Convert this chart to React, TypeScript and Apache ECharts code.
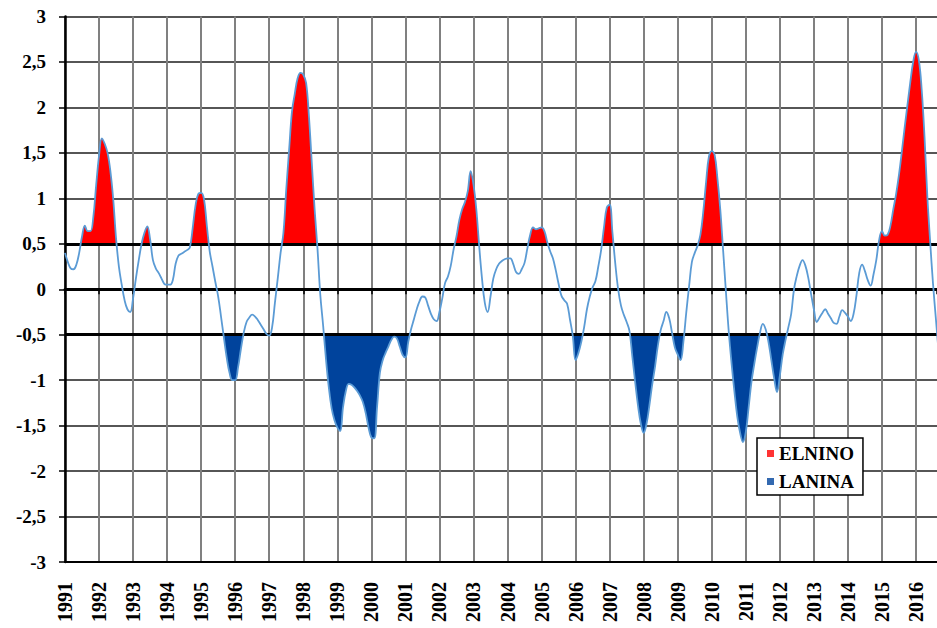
import React, { useEffect, useRef } from "react";
import * as echarts from "echarts";

// ---- data ----
const START_YEAR = 1991;
const X_MAX = 2016.617; // right edge of the plot (about Aug 2016)
const Y_MIN = -3;
const Y_MAX = 3;
const Y_STEP = 0.5;
const EL_NINO_LEVEL = 0.5;
const LA_NINA_LEVEL = -0.5;
const LEGEND_NAMES = ["ELNINO", "LANINA"];
const EL_NINO_COLOR = "#ff0000";
const LA_NINA_COLOR = "#00439c";
const LINE_COLOR = "#5b9bd5";

// monthly index values, Jan 1991 onwards (one row per year)
const monthlyIndex: number[] = [
  // 1991
  0.4, 0.3, 0.23, 0.22, 0.27, 0.4, 0.58, 0.7, 0.64, 0.64, 0.8, 1.15,
  // 1992
  1.47, 1.66, 1.6, 1.5, 1.3, 0.99, 0.56, 0.25, 0.05, -0.12, -0.22, -0.25,
  // 1993
  -0.1, 0.12, 0.32, 0.5, 0.62, 0.69, 0.55, 0.32, 0.23, 0.18, 0.12, 0.06,
  // 1994
  0.05, 0.05, 0.1, 0.28, 0.37, 0.39, 0.41, 0.43, 0.46, 0.67, 0.92, 1.05,
  // 1995
  1.06, 0.99, 0.7, 0.42, 0.25, 0.08, -0.08, -0.3, -0.53, -0.75, -0.92, -1.0,
  // 1996
  -1.0, -0.86, -0.66, -0.48, -0.36, -0.31, -0.28, -0.3, -0.34, -0.39, -0.44, -0.49,
  // 1997
  -0.51, -0.42, -0.15, 0.12, 0.4, 0.62, 1.1, 1.53, 1.95, 2.15, 2.32, 2.38,
  // 1998
  2.36, 2.27, 1.9, 1.39, 0.88, 0.45, -0.06, -0.4, -0.77, -1.08, -1.31, -1.44,
  // 1999
  -1.52, -1.56, -1.3, -1.12, -1.04, -1.05, -1.08, -1.12, -1.17, -1.24, -1.36, -1.52,
  // 2000
  -1.63, -1.64, -1.3, -0.92, -0.78, -0.7, -0.63, -0.56, -0.52, -0.54, -0.63, -0.72,
  // 2001
  -0.75, -0.58, -0.44, -0.33, -0.22, -0.13, -0.08, -0.09, -0.18, -0.27, -0.33, -0.35,
  // 2002
  -0.25, -0.1, 0.07, 0.14, 0.26, 0.44, 0.58, 0.76, 0.88, 0.96, 1.08, 1.3,
  // 2003
  1.15, 0.88, 0.48, 0.12, -0.15, -0.25, -0.08, 0.12, 0.22, 0.28, 0.31, 0.33,
  // 2004
  0.34, 0.34, 0.28, 0.19, 0.17, 0.22, 0.29, 0.45, 0.6, 0.68, 0.66, 0.67,
  // 2005
  0.68, 0.64, 0.52, 0.42, 0.34, 0.21, 0.06, -0.07, -0.12, -0.16, -0.33, -0.51,
  // 2006
  -0.78, -0.7, -0.58, -0.42, -0.22, -0.08, 0.02, 0.09, 0.25, 0.43, 0.68, 0.9,
  // 2007
  0.93, 0.62, 0.28, 0.0, -0.18, -0.28, -0.36, -0.46, -0.74, -1.02, -1.28, -1.48,
  // 2008
  -1.58, -1.48, -1.28, -1.05, -0.85, -0.62, -0.45, -0.35, -0.25, -0.32, -0.48, -0.64,
  // 2009
  -0.72, -0.78, -0.58, -0.26, 0.03, 0.3, 0.4, 0.48, 0.6, 0.85, 1.18, 1.46,
  // 2010
  1.52, 1.48, 1.22, 0.88, 0.43, -0.03, -0.47, -0.82, -1.13, -1.4, -1.58, -1.68,
  // 2011
  -1.57, -1.3, -1.02, -0.82, -0.64, -0.48, -0.38, -0.44, -0.58, -0.78, -0.98, -1.13,
  // 2012
  -0.95, -0.72, -0.56, -0.42, -0.27, 0.0, 0.15, 0.26, 0.32, 0.26, 0.13, -0.05,
  // 2013
  -0.22, -0.36, -0.31, -0.26, -0.22, -0.27, -0.32, -0.37, -0.38, -0.3, -0.23, -0.26,
  // 2014
  -0.3, -0.35, -0.27, -0.07, 0.18, 0.27, 0.2, 0.1, 0.04, 0.16, 0.32, 0.54,
  // 2015
  0.64, 0.59, 0.6, 0.7, 0.88, 1.05, 1.26, 1.51, 1.78, 2.03, 2.28, 2.5,
  // 2016
  2.61, 2.52, 2.2, 1.68, 1.02, 0.52, 0.06, -0.32, -0.7,
];

const serif = "'Liberation Serif', 'Times New Roman', serif";

export default function App() {
  const ref = useRef<HTMLDivElement>(null);

  useEffect(() => {
    if (!ref.current) return;
    const chart = echarts.init(ref.current, null, { renderer: "svg" });
    const points = monthlyIndex.map((v, i) => [START_YEAR + i / 12, v]);

    const commonX = {
      type: "value" as const,
      min: START_YEAR,
      max: X_MAX,
      interval: 1,
    };

    chart.setOption({
      animation: false,
      backgroundColor: "#ffffff",
      grid: { left: 65, right: 0, top: 16.5, bottom: 66 },
      xAxis: [
        {
          ...commonX,
          position: "bottom",
          axisLine: { show: true, onZero: false, lineStyle: { color: "#000", width: 2 } },
          axisTick: { show: false },
          axisLabel: {
            rotate: 90,
            margin: 20,
            fontFamily: serif,
            fontWeight: "bold",
            fontSize: 20,
            color: "#000",
            showMaxLabel: false,
            formatter: (v: number) => (Number.isInteger(v) ? String(v) : ""),
          },
          splitLine: {
            show: true,
            showMaxLine: false,
            lineStyle: { color: "#808080", width: 2 },
          },
        },
        {
          ...commonX,
          position: "bottom",
          axisLine: { show: true, onZero: true, lineStyle: { color: "#000", width: 3 } },
          axisTick: { show: true, length: 5, lineStyle: { color: "#000", width: 1.5 } },
          axisLabel: { show: false },
          splitLine: { show: false },
        },
      ],
      yAxis: {
        type: "value",
        min: Y_MIN,
        max: Y_MAX,
        interval: Y_STEP,
        axisLine: { show: true, onZero: false, lineStyle: { color: "#000", width: 2.5 } },
        axisTick: { show: true, length: 6, lineStyle: { color: "#000", width: 1.5 } },
        axisLabel: {
          margin: 19,
          fontFamily: serif,
          fontWeight: "bold",
          fontSize: 19,
          color: "#000",
          formatter: (v: number) => String(v).replace(".", ","),
        },
        splitLine: { show: true, lineStyle: { color: "#1e1e1e", width: 1.6 } },
      },
      visualMap: {
        type: "piecewise",
        show: false,
        seriesIndex: 0,
        dimension: 1,
        pieces: [
          { gt: EL_NINO_LEVEL, color: EL_NINO_COLOR },
          { gte: LA_NINA_LEVEL, lte: EL_NINO_LEVEL, color: "rgba(0,0,0,0)" },
          { lt: LA_NINA_LEVEL, color: LA_NINA_COLOR },
        ],
        outOfRange: { color: "rgba(0,0,0,0)" },
      },
      legend: {
        data: LEGEND_NAMES,
        orient: "vertical",
        left: 757,
        top: 438,
        icon: "rect",
        itemWidth: 7,
        itemHeight: 7,
        itemGap: 9,
        padding: [6, 9, 4, 10],
        borderColor: "#000",
        borderWidth: 1.5,
        backgroundColor: "#ffffff",
        selectedMode: false,
        textStyle: {
          fontFamily: serif,
          fontWeight: "bold",
          fontSize: 19,
          color: "#000",
        },
      },
      series: [
        {
          name: "fill",
          type: "line",
          xAxisIndex: 0,
          data: points,
          smooth: 0.4,
          symbol: "none",
          showSymbol: false,
          silent: true,
          lineStyle: { width: 0 },
          areaStyle: { opacity: 1 },
          z: 2,
          markLine: {
            silent: true,
            symbol: "none",
            label: { show: false },
            lineStyle: { color: "#000", width: 3, type: "solid" },
            data: [{ yAxis: EL_NINO_LEVEL }, { yAxis: LA_NINA_LEVEL }],
          },
        },
        {
          name: "index",
          type: "line",
          xAxisIndex: 0,
          data: points,
          smooth: 0.4,
          symbol: "none",
          showSymbol: false,
          silent: true,
          lineStyle: { color: LINE_COLOR, width: 1.8 },
          itemStyle: { color: LINE_COLOR },
          z: 6,
        },
        {
          name: LEGEND_NAMES[0],
          type: "scatter",
          data: [],
          itemStyle: { color: EL_NINO_COLOR },
        },
        {
          name: LEGEND_NAMES[1],
          type: "scatter",
          data: [],
          itemStyle: { color: LA_NINA_COLOR },
        },
      ],
    });

    return () => chart.dispose();
  }, []);

  return (
    <div
      ref={ref}
      style={{
        position: "fixed",
        left: 0,
        top: 0,
        width: 937,
        height: 628,
        background: "#fff",
      }}
    />
  );
}
